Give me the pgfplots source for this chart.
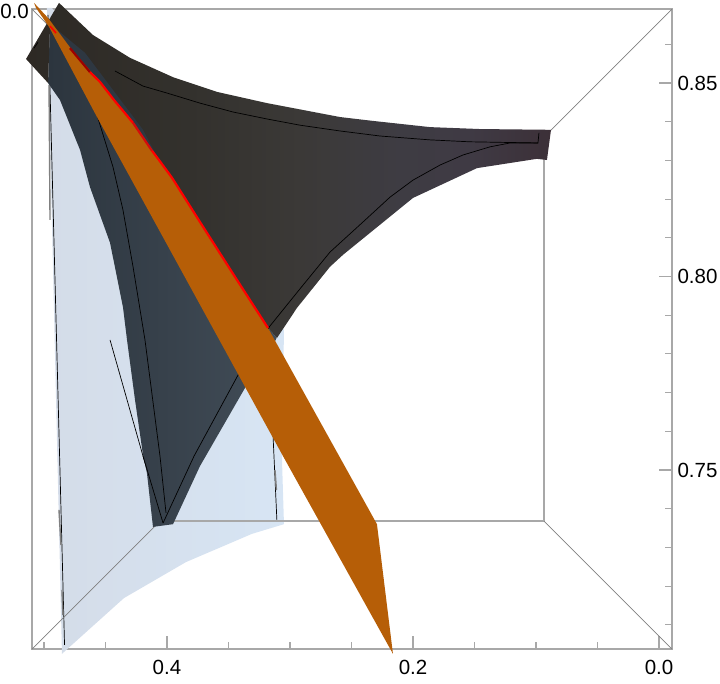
\documentclass[border=0pt]{standalone}
\usepackage{pgfplots}
\pgfplotsset{compat=1.18}
\usepackage{fontspec}
\setmainfont{Liberation Sans}
\definecolor{axisgray}{HTML}{A8A8A8}
\definecolor{diaggray}{HTML}{808080}
\definecolor{orangeS}{HTML}{B65E07}
\definecolor{brownA}{HTML}{2D2924}
\definecolor{brownB}{HTML}{33312D}
\definecolor{brownC}{HTML}{3B3937}
\definecolor{brownD}{HTML}{3E3C43}
\definecolor{brownE}{HTML}{3F3A44}
\definecolor{brownF}{HTML}{3C3038}
\definecolor{blueL}{HTML}{2C353E}
\definecolor{blueR}{HTML}{424D58}
\definecolor{paleL}{HTML}{D4DCE8}
\definecolor{paleR}{HTML}{D7E5F4}
\pgfdeclarehorizontalshading{brownshade}{100bp}{color(0bp)=(brownA); color(25bp)=(brownA); color(40.6bp)=(brownB); color(51.1bp)=(brownC); color(60.6bp)=(brownD); color(67.3bp)=(brownE); color(75bp)=(brownF); color(100bp)=(brownF)}
\begin{document}
\begin{tikzpicture}
\useasboundingbox (0,0) rectangle (720pt,684pt);
\begin{axis}[
  at={(32pt,35pt)}, anchor=south west,
  scale only axis, width=640pt, height=640pt,
  x dir=reverse,
  xmin=-0.01057, xmax=0.50976, ymin=0.70375, ymax=0.86912,
  clip=false,
  axis on top=false,
  axis line style={draw=axisgray, line width=1.3pt},
  tick style={draw=axisgray, line width=1.1pt},
  major tick length=13pt, minor tick length=7pt,
  tick align=inside,
  xtick pos=bottom, ytick pos=right,
  xtick={0,0.2,0.4},
  minor xtick={0.05,0.1,0.15,0.25,0.3,0.35,0.45,0.5},
  ytick={0.75,0.80,0.85},
  minor ytick={0.71,0.72,0.73,0.74,0.76,0.77,0.78,0.79,0.81,0.82,0.83,0.84,0.86},
  xticklabel style={/pgf/number format/.cd,fixed,fixed zerofill,precision=1,assume math mode=true},
  yticklabel style={/pgf/number format/.cd,fixed,fixed zerofill,precision=2,assume math mode=true},
  tick label style={font=\fontsize{20.5}{23}\selectfont, text=black},
  xticklabel shift=8pt, yticklabel shift=2pt,
]
% pale surface
\addplot[draw=none, left color=paleL, right color=paleR] coordinates {
(.4976,.8694)(.4935,.8694)(.3049,.7862)(.3065,.7526)(.3049,.7360)(.3309,.7335)(.3846,.7262)(.4350,.7169)(.4854,.7025)
} --cycle;
% black lines on pale surface
\addplot[black, line width=0.7pt] coordinates {(.4967,.8676)(.4833,.7048)};
\addplot[black, line width=0.7pt] coordinates {(.3179,.7911)(.3179,.7867)(.3138,.7590)(.3106,.7366)};
\addplot[black, line width=0.7pt] coordinates {(.4463,.7836)(.4195,.7536)(.4032,.7363)};
% gray sections over those lines
\addplot[diaggray, line width=1.4pt] coordinates {(.4959,.8495)(.4951,.8146)};
\addplot[diaggray, line width=1.4pt] coordinates {(.4878,.7397)(.4862,.7306)};
\addplot[diaggray, line width=1.4pt] coordinates {(.4854,.7190)(.4846,.7125)};
\addplot[diaggray, line width=1.4pt] coordinates {(.3122,.75)(.3110,.7448)};
% back box
\addplot[axisgray, line width=1.3pt] coordinates {(.4057,.8360)(.0935,.8360)(.0935,.7368)(.4057,.7368)(.4057,.8360)};
\addplot[diaggray, line width=0.6pt] coordinates {(-.0106,.8691)(.0935,.8360)};
\addplot[diaggray, line width=0.6pt] coordinates {(-.0106,.7037)(.0935,.7368)};
\addplot[diaggray, line width=0.6pt] coordinates {(.5098,.7037)(.4057,.7368)};
\addplot[diaggray, line width=0.6pt] coordinates {(.5098,.8691)(.4057,.8360)};
% blue lower surface
\addplot[draw=none, left color=blueL, right color=blueR] coordinates {
(.4951,.8647)(.4967,.8500)(.4870,.8456)(.4707,.8327)(.4626,.8231)(.4463,.8087)(.4358,.7921)(.4325,.7836)(.4260,.7681)(.4195,.7539)(.4163,.7492)(.4114,.7353)(.3951,.7360)(.3732,.7510)(.3366,.7712)(.3106,.7841)(.3179,.7867)
} --cycle;
% brown upper surface
\addplot[draw=none, shading=brownshade] coordinates {
(.4878,.8707)(.4602,.8624)(.4301,.8565)(.3951,.8515)(.3594,.8477)(.3187,.8448)(.2593,.8412)(.2325,.8402)(.1862,.8386)(.1455,.8381)(.0878,.8379)(.0911,.8301)(.0993,.8304)(.1480,.8280)(.2000,.8203)(.2569,.8056)(.2675,.8025)(.2943,.7919)(.3106,.7841)(.3179,.7867)(.4951,.8647)(.4967,.8500)(.5146,.8562)
} --cycle;
% blue sliver beside the red curve
\addplot[draw=none, fill=blueL!90!blueR] coordinates {
(.4911,.8642)(.4667,.8578)(.4610,.8554)(.4195,.8379)(.4081,.8309)(.4301,.8379)
} --cycle;
% black curves on dark surfaces
\addplot[black, line width=0.7pt] coordinates {(.4423,.8531)(.4195,.8492)(.4000,.8474)(.3732,.8448)(.3463,.8425)(.3187,.8407)(.2919,.8391)(.2593,.8376)(.2268,.8363)(.1862,.8353)(.1537,.8348)(.0984,.8345)(.0976,.8371)};
\addplot[black, line width=0.7pt] coordinates {(.0984,.8345)(.1211,.8345)(.1374,.8335)(.1593,.8314)(.1780,.8288)(.2000,.8249)(.2187,.8205)(.2406,.8141)(.2675,.8063)(.2919,.7968)(.3163,.7872)(.3423,.7745)(.3780,.7536)(.4032,.7363)};
\addplot[black, line width=0.7pt] coordinates {(.4569,.8417)(.4439,.8283)(.4358,.8172)(.4276,.8025)(.4179,.7836)(.4057,.7536)(.4008,.7389)};
\addplot[black, line width=0.7pt] coordinates {(.4195,.7536)(.4032,.7363)};
\addplot[black, line width=0.7pt] coordinates {(.5081,.8590)(.5049,.8605)};
% orange surface
\addplot[draw=none, fill=orangeS] coordinates {
(.5081,.8707)(.4967,.8668)(.4772,.8585)(.4545,.8503)(.4431,.8456)(.4276,.8397)(.4065,.8301)(.3959,.8255)(.3732,.8141)(.3447,.7999)(.3179,.7867)(.2293,.7360)(.2163,.7025)(.3057,.7536)(.4073,.8125)(.4569,.8412)(.4959,.8645)(.5065,.8694)
} --cycle;
% red curve
\addplot[red!62!black, line width=2.2pt] coordinates {(.4789,.8590)(.4626,.8528)};
\addplot[red, line width=2.2pt] coordinates {(.4626,.8528)(.4545,.8503)(.4431,.8456)(.4276,.8397)};
\addplot[red!80!blueL, line width=2.2pt] coordinates {(.4276,.8397)(.4122,.8325)};
\addplot[red, line width=2.2pt] coordinates {(.4122,.8325)(.4065,.8301)(.3959,.8255)(.3732,.8141)(.3447,.7999)(.3179,.7867)};
\addplot[red, line width=1.6pt] coordinates {(.4951,.8647)(.4902,.8629)};
\node[anchor=east, inner sep=0pt, font=\fontsize{20.5}{23}\selectfont] at (axis cs:.5122,.8686) {0.0};
\end{axis}
\end{tikzpicture}
\end{document}
